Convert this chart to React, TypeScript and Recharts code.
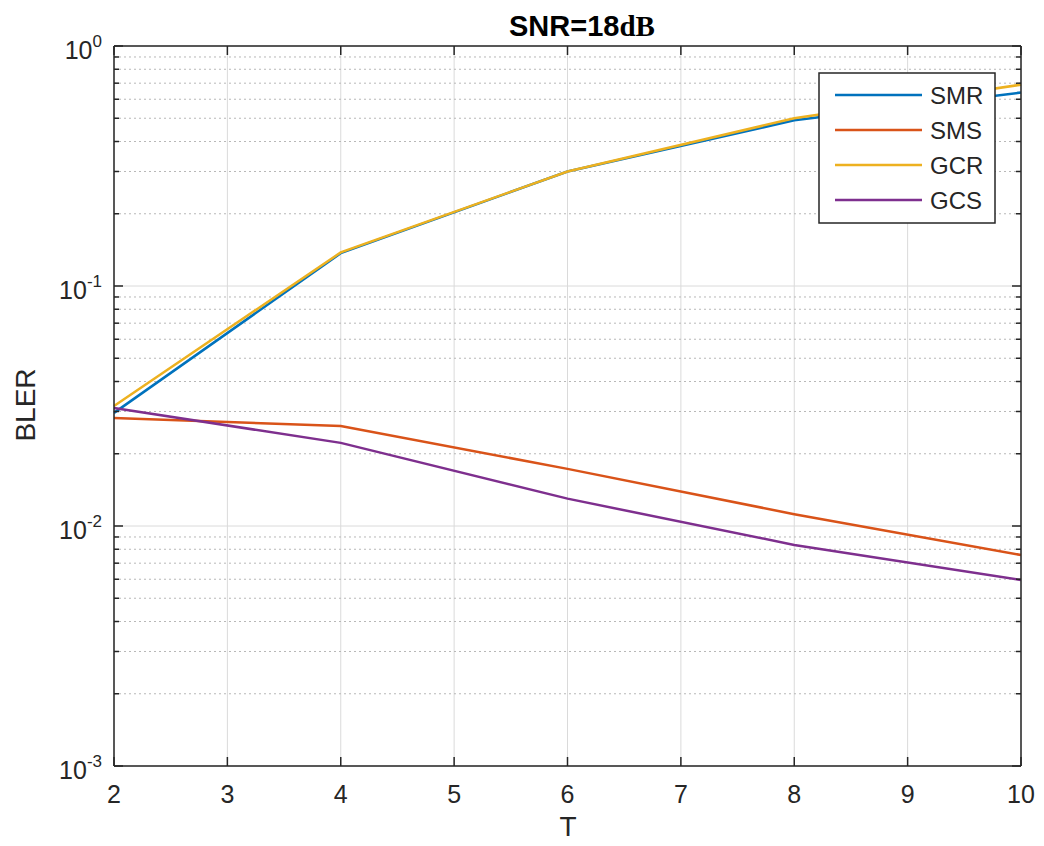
import React from "react";
import { LineChart, Line, XAxis, YAxis, CartesianGrid, ReferenceLine } from "recharts";

const T_VALUES = [2, 4, 6, 8, 10];
const SMR = [0.0296, 0.137, 0.3, 0.49, 0.64];
const SMS = [0.0282, 0.0261, 0.0173, 0.0112, 0.00757];
const GCR = [0.0316, 0.138, 0.3, 0.5, 0.69];
const GCS = [0.031, 0.0222, 0.013, 0.00834, 0.00596];

const X_TICKS = [2, 3, 4, 5, 6, 7, 8, 9, 10];
const Y_TICKS = [0.001, 0.01, 0.1, 1];
const Y_EXPONENTS = ["-3", "-2", "-1", "0"];
const MINOR_MULTS = [2, 3, 4, 5, 6, 7, 8, 9];
const DECADES = [0.001, 0.01, 0.1];

const SERIES = [
  { key: "SMR", values: SMR, color: "#0072BD" },
  { key: "SMS", values: SMS, color: "#D95319" },
  { key: "GCR", values: GCR, color: "#EDB120" },
  { key: "GCS", values: GCS, color: "#7E2F8E" },
];

const data = T_VALUES.map((t, i) => {
  const row: Record<string, number> = { T: t };
  SERIES.forEach((s) => (row[s.key] = s.values[i]));
  return row;
});

const MINOR_VALUES: number[] = [];
DECADES.forEach((d) => MINOR_MULTS.forEach((m) => MINOR_VALUES.push(+(d * m).toPrecision(3))));

const FONT = "Arial, 'Liberation Sans', Helvetica, sans-serif";
const INK = "#262626";

const XTick = (props: any) => {
  const { x, y, payload } = props;
  return (
    <text x={x} y={y + 37} textAnchor="middle" fontSize={25} fontFamily={FONT} fill={INK}>
      {payload.value}
    </text>
  );
};

const YTick = (props: any) => {
  const { x, y, payload } = props;
  const idx = Y_TICKS.findIndex((v) => Math.abs(v - payload.value) < payload.value * 1e-6);
  const exp = idx >= 0 ? Y_EXPONENTS[idx] : "";
  return (
    <text x={x - 12} y={y + 13} textAnchor="end" fontSize={25} fontFamily={FONT} fill={INK}>
      <tspan>10</tspan>
      <tspan fontSize={17} dy={-12}>{exp}</tspan>
    </text>
  );
};

// tick lengths expressed in data units (inward ticks)
const X_SPAN = 8;
const PLOT_W = 907;
const majLenX = (9 / PLOT_W) * X_SPAN;
const minLenX = (5 / PLOT_W) * X_SPAN;
const tickFactor = Math.pow(10, 9 / 240);

export default function App() {
  return (
    <div style={{ position: "relative", width: 1036, height: 838 }}>
      <LineChart
        width={1036}
        height={838}
        data={data}
        margin={{ top: 38, right: 23, left: 0, bottom: 0 }}
      >
        <CartesianGrid stroke="#dadada" strokeWidth={1} />
        {MINOR_VALUES.map((v) => (
          <ReferenceLine key={"mg" + v} y={v} stroke="#b8b8b8" strokeDasharray="2 3" strokeWidth={1} />
        ))}
        <XAxis
          dataKey="T"
          type="number"
          domain={[2, 10]}
          ticks={X_TICKS}
          tickLine={false}
          tickSize={0}
          tickMargin={0}
          height={80}
          axisLine={{ stroke: INK, strokeWidth: 1.5 }}
          tick={<XTick />}
          interval={0}
        />
        <YAxis
          type="number"
          scale="log"
          domain={[0.001, 1]}
          ticks={Y_TICKS}
          allowDataOverflow
          tickLine={false}
          tickSize={0}
          tickMargin={0}
          width={106}
          axisLine={{ stroke: INK, strokeWidth: 1.5 }}
          tick={<YTick />}
          interval={0}
        />
        {SERIES.map((s) => (
          <Line
            key={s.key}
            dataKey={s.key}
            stroke={s.color}
            strokeWidth={2.5}
            dot={false}
            isAnimationActive={false}
            type="linear"
          />
        ))}
        <ReferenceLine y={1} stroke={INK} strokeWidth={1.5} />
        <ReferenceLine x={10} stroke={INK} strokeWidth={1.5} />
        {Y_TICKS.map((v) => (
          <ReferenceLine
            key={"yl" + v}
            segment={[{ x: 2, y: v }, { x: 2 + majLenX, y: v }]}
            stroke={INK}
            strokeWidth={1.5}
          />
        ))}
        {Y_TICKS.map((v) => (
          <ReferenceLine
            key={"yr" + v}
            segment={[{ x: 10 - majLenX, y: v }, { x: 10, y: v }]}
            stroke={INK}
            strokeWidth={1.5}
          />
        ))}
        {MINOR_VALUES.map((v) => (
          <ReferenceLine
            key={"ml" + v}
            segment={[{ x: 2, y: v }, { x: 2 + minLenX, y: v }]}
            stroke={INK}
            strokeWidth={1.5}
          />
        ))}
        {MINOR_VALUES.map((v) => (
          <ReferenceLine
            key={"mr" + v}
            segment={[{ x: 10 - minLenX, y: v }, { x: 10, y: v }]}
            stroke={INK}
            strokeWidth={1.5}
          />
        ))}
        {X_TICKS.map((t) => (
          <ReferenceLine
            key={"xb" + t}
            segment={[{ x: t, y: 0.001 }, { x: t, y: 0.001 * tickFactor }]}
            stroke={INK}
            strokeWidth={1.5}
          />
        ))}
        {X_TICKS.map((t) => (
          <ReferenceLine
            key={"xt" + t}
            segment={[{ x: t, y: 1 / tickFactor }, { x: t, y: 1 }]}
            stroke={INK}
            strokeWidth={1.5}
          />
        ))}
      </LineChart>
      <svg
        width={1036}
        height={838}
        style={{ position: "absolute", left: 0, top: 0, pointerEvents: "none" }}
      >
        <text x={501} y={28} fontSize={29} fontWeight="bold" fill="#000">
          <tspan fontFamily={FONT}>SNR=18</tspan>
          <tspan fontFamily="'Liberation Serif', 'DejaVu Serif', serif">dB</tspan>
        </text>
        <text
          transform="translate(27,397) rotate(-90)"
          textAnchor="middle"
          fontSize={28}
          fontFamily={FONT}
          fill={INK}
        >
          BLER
        </text>
        <text x={560} y={828} textAnchor="middle" fontSize={28} fontFamily={FONT} fill={INK}>
          T
        </text>
        <rect x={811} y={65} width={176} height={150} fill="#fff" stroke={INK} strokeWidth={1.5} />
        {SERIES.map((s, i) => {
          const yy = 87 + i * 35;
          return (
            <g key={s.key}>
              <line x1={827} x2={914} y1={yy} y2={yy} stroke={s.color} strokeWidth={2.5} />
              <text x={922} y={yy + 9} fontSize={24} fontFamily={FONT} fill={INK}>
                {s.key}
              </text>
            </g>
          );
        })}
      </svg>
    </div>
  );
}
